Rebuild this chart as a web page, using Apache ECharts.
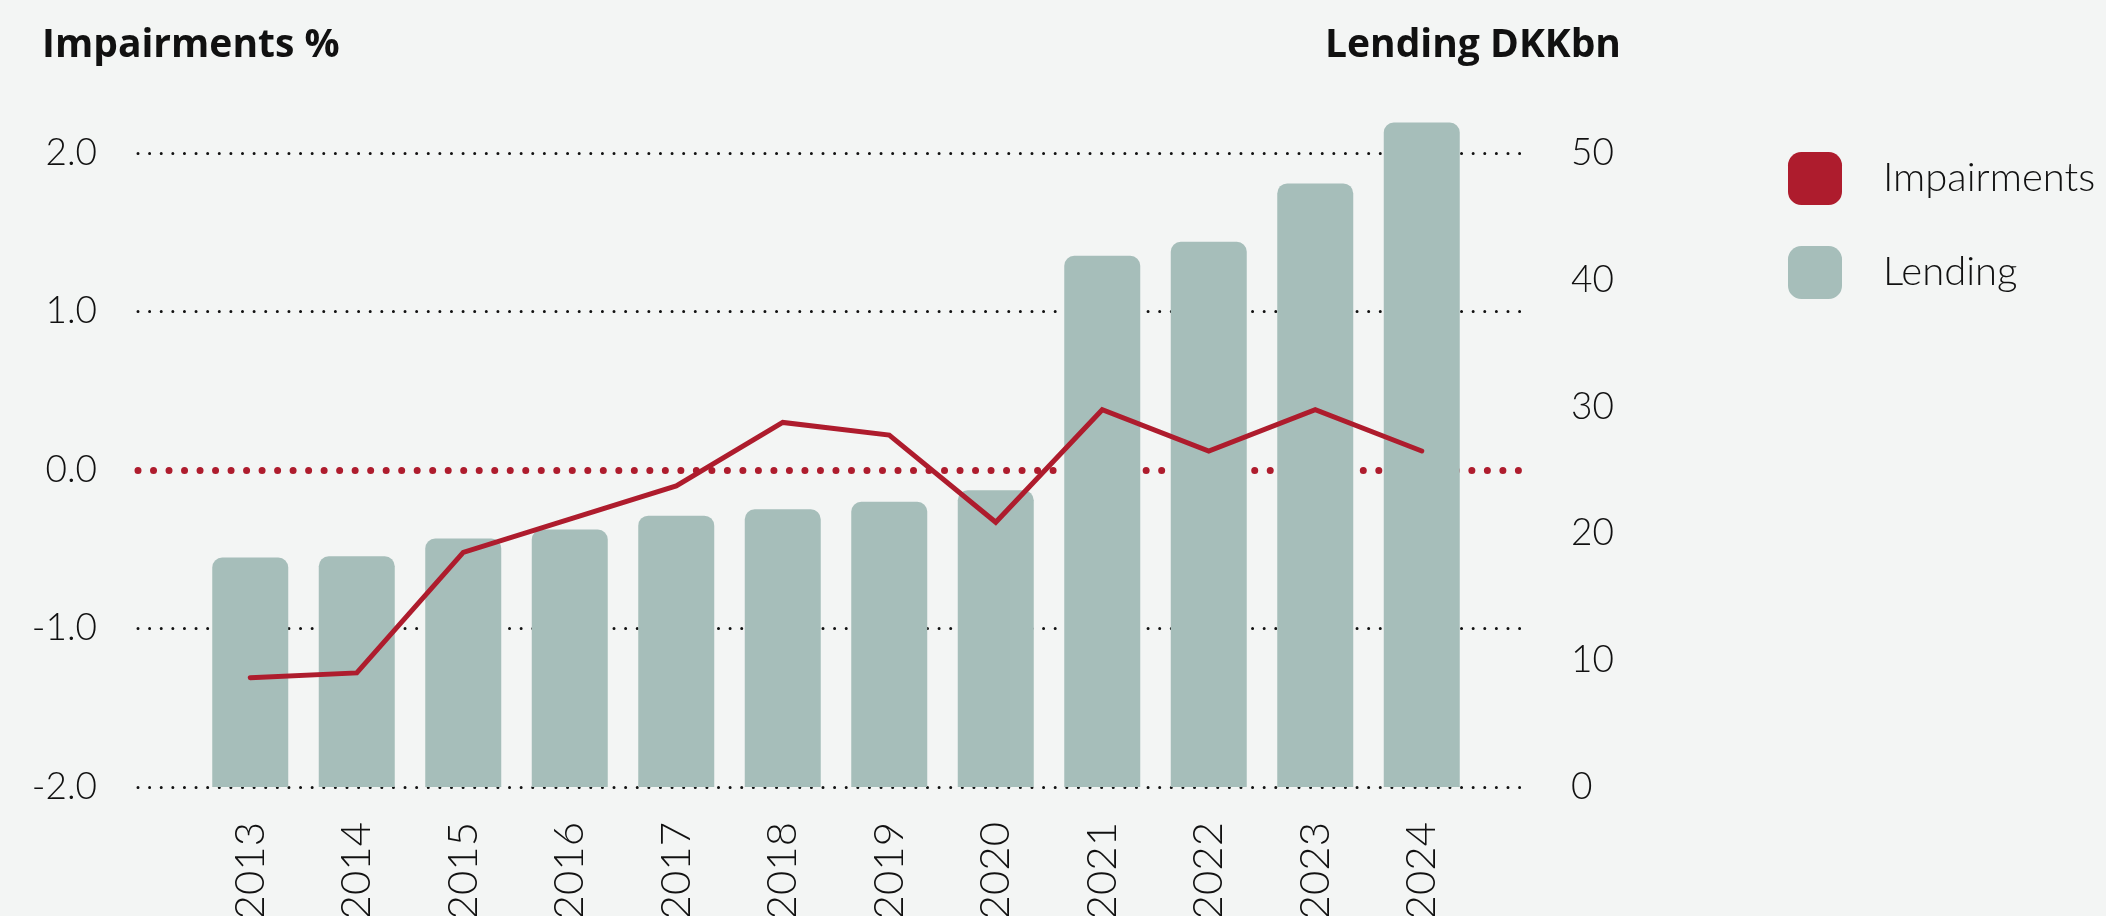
<!DOCTYPE html>
<html>
<head>
<meta charset="utf-8">
<title>Impairments and lending</title>
<script src="https://cdn.jsdelivr.net/npm/echarts@6/dist/echarts.min.js"></script>
<style>
  html, body { margin: 0; padding: 0; background: #f3f5f4; }
  #chart { width: 2106px; height: 916px; }
</style>
</head>
<body>
<div id="chart"></div>
<script>
// years on the x axis
var years = ['2013', '2014', '2015', '2016', '2017', '2018', '2019', '2020', '2021', '2022', '2023', '2024'];
// lending, DKKbn (right axis)
var lending = [18.1, 18.2, 19.6, 20.3, 21.4, 21.9, 22.5, 23.4, 41.9, 43.0, 47.6, 52.4];
// impairments, % (left axis)
var impairments = [-1.31, -1.28, -0.52, -0.31, -0.10, 0.30, 0.22, -0.33, 0.38, 0.12, 0.38, 0.12];

var red = '#ae1c2d';
var grey = '#a6beba';
var ink = '#111111';
var font = 'Lato';

var chart = echarts.init(document.getElementById('chart'));

var option = {
  backgroundColor: '#f3f5f4',
  textStyle: { fontFamily: font },
  title: [
    { text: 'Impairments %', left: 37, top: 21,
      textStyle: { fontSize: 39, fontWeight: 'bold', color: ink, fontFamily: 'Open Sans' } },
    { text: 'Lending DKKbn', right: 480, top: 21,
      textStyle: { fontSize: 39, fontWeight: 'bold', color: ink, fontFamily: 'Open Sans' } }
  ],
  legend: {
    orient: 'vertical',
    left: 1783,
    top: 147,
    itemWidth: 54,
    itemHeight: 53,
    itemGap: 41,
    icon: 'roundRect',
    data: ['Impairments', 'Lending'],
    textStyle: { fontSize: 40, fontWeight: 300, color: ink, padding: [0, 0, 0, 36] }
  },
  grid: [
    // wide grid: grid lines, zero line and axis labels
    { left: 138, right: 575, top: 153, bottom: 129, outerBoundsMode: 'none' },
    // narrower grid: the bars and the line
    { left: 197, width: 1278, top: 153, bottom: 129, outerBoundsMode: 'none' }
  ],
  xAxis: [
    { type: 'value', gridIndex: 0, min: 0, max: 1,
      axisLine: { show: true, onZero: true, onZeroAxisIndex: 0,
        lineStyle: { color: red, width: 7, type: [0.01, 15.5], cap: 'round' } },
      axisTick: { show: false }, axisLabel: { show: false }, splitLine: { show: false } },
    { type: 'category', gridIndex: 1, data: years,
      axisLine: { show: false }, axisTick: { show: false },
      axisLabel: { rotate: 90, margin: 35, fontSize: 42, fontWeight: 300, color: ink } }
  ],
  yAxis: [
    { type: 'value', gridIndex: 0, min: -2, max: 2, interval: 1,
      axisLine: { show: false }, axisTick: { show: false },
      axisLabel: { margin: 41, fontSize: 37, fontWeight: 300, color: ink,
        formatter: function (v) { return v.toFixed(1); } },
      splitLine: { lineStyle: { color: [ink, ink, 'transparent', ink, ink], width: 3,
        type: [0.01, 11.6], cap: 'round' } } },
    { type: 'value', gridIndex: 0, position: 'right', min: 0, max: 50, interval: 10,
      axisLine: { show: false }, axisTick: { show: false }, splitLine: { show: false },
      axisLabel: { margin: 40, fontSize: 37, fontWeight: 300, color: ink } },
    { type: 'value', gridIndex: 1, min: -2, max: 2, interval: 1, show: false },
    { type: 'value', gridIndex: 1, min: 0, max: 50, interval: 10, show: false }
  ],
  series: [
    { name: 'Lending', type: 'bar', xAxisIndex: 1, yAxisIndex: 3,
      data: lending, barWidth: 76, clip: false,
      itemStyle: { color: grey, borderRadius: [10, 10, 0, 0] } },
    { name: 'Impairments', type: 'line', xAxisIndex: 1, yAxisIndex: 2,
      data: impairments, showSymbol: false, symbol: 'none', z: 5,
      itemStyle: { color: red },
      lineStyle: { color: red, width: 5, cap: 'round', join: 'miter' } }
  ]
};

chart.setOption(option);
</script>
</body>
</html>
